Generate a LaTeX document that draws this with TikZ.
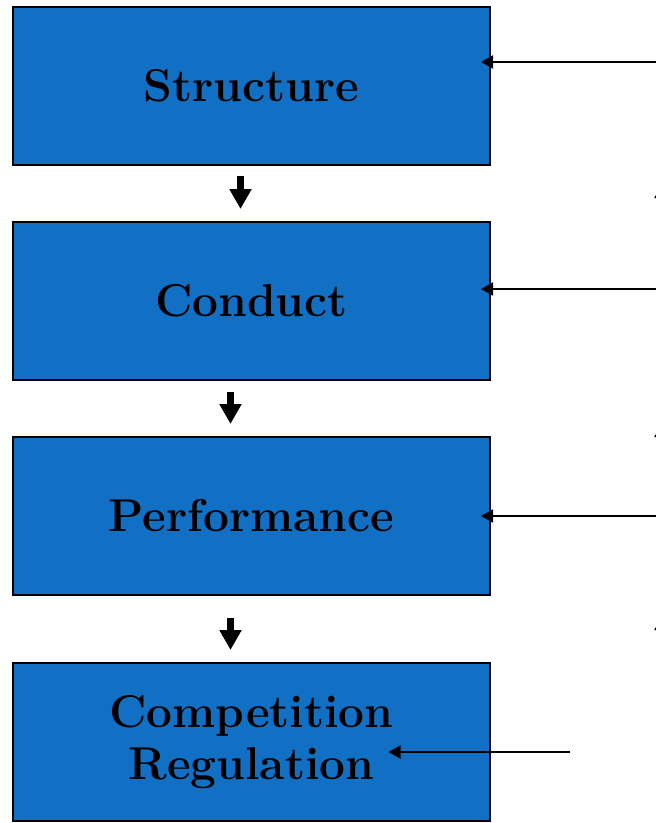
\documentclass[tikz,border=0pt]{standalone}
\usepackage{fontspec}
\usepackage{xcolor}
\usepackage{tikz}
\usetikzlibrary{arrows.meta, positioning}

\definecolor{boxblue}{RGB}{17,112,196}

\begin{document}
\begin{tikzpicture}[
  x=1pt, y=-1pt,
  node distance=55pt,
  stage/.style={draw, line width=2pt, fill=boxblue, align=center, minimum width=477pt, minimum height=158pt, inner sep=0pt},
  down/.style={-{Triangle[length=20pt, width=21pt]}, line width=7pt},
  side/.style={-{Triangle[length=12pt, width=13pt]}, line width=2pt},
  font=\bfseries\fontsize{46}{52}\selectfont
]
\useasboundingbox (0,0) rectangle (656,823);
\clip (0,0) rectangle (656,823);

\node[stage] (structure) at (251.5,86) {Structure};
\node[stage, below=of structure] (conduct) {Conduct};
\node[stage, below=of conduct] (performance) {Performance};
\node[stage, below=66pt of performance] (competition) {Competition\\Regulation};

% arrows down the chain
\draw[down] ([xshift=-11pt, yshift=-10pt]structure.south) -- ([xshift=-11pt, yshift=12pt]conduct.north);
\draw[down] ([xshift=-21pt, yshift=-11pt]conduct.south) -- ([xshift=-21pt, yshift=12pt]performance.north);
\draw[down] ([xshift=-21pt, yshift=-22pt]performance.south) -- ([xshift=-21pt, yshift=12pt]competition.north);

% inputs from the right
\coordinate (in1) at (660,62);
\coordinate (in2) at (660,289);
\coordinate (in3) at (660,516);
\coordinate (in4) at (570,752);
\draw[side] (in1) -- ([xshift=-10pt]in1 -| structure.east);
\draw[side] (in2) -- ([xshift=-10pt]in2 -| conduct.east);
\draw[side] (in3) -- ([xshift=-10pt]in3 -| performance.east);
\draw[side] (in4) -- ([xshift=137pt]in4 -| competition.center);

% feedback arrows, cut off at the edge
\coordinate (up1) at (661,186);
\coordinate (up2) at (661,425);
\coordinate (up3) at (661,618);
\draw[side] ([yshift=-40pt]up1) -- (up1);
\draw[side] ([yshift=-40pt]up2) -- (up2);
\draw[side] ([yshift=-40pt]up3) -- (up3);
\end{tikzpicture}
\end{document}
